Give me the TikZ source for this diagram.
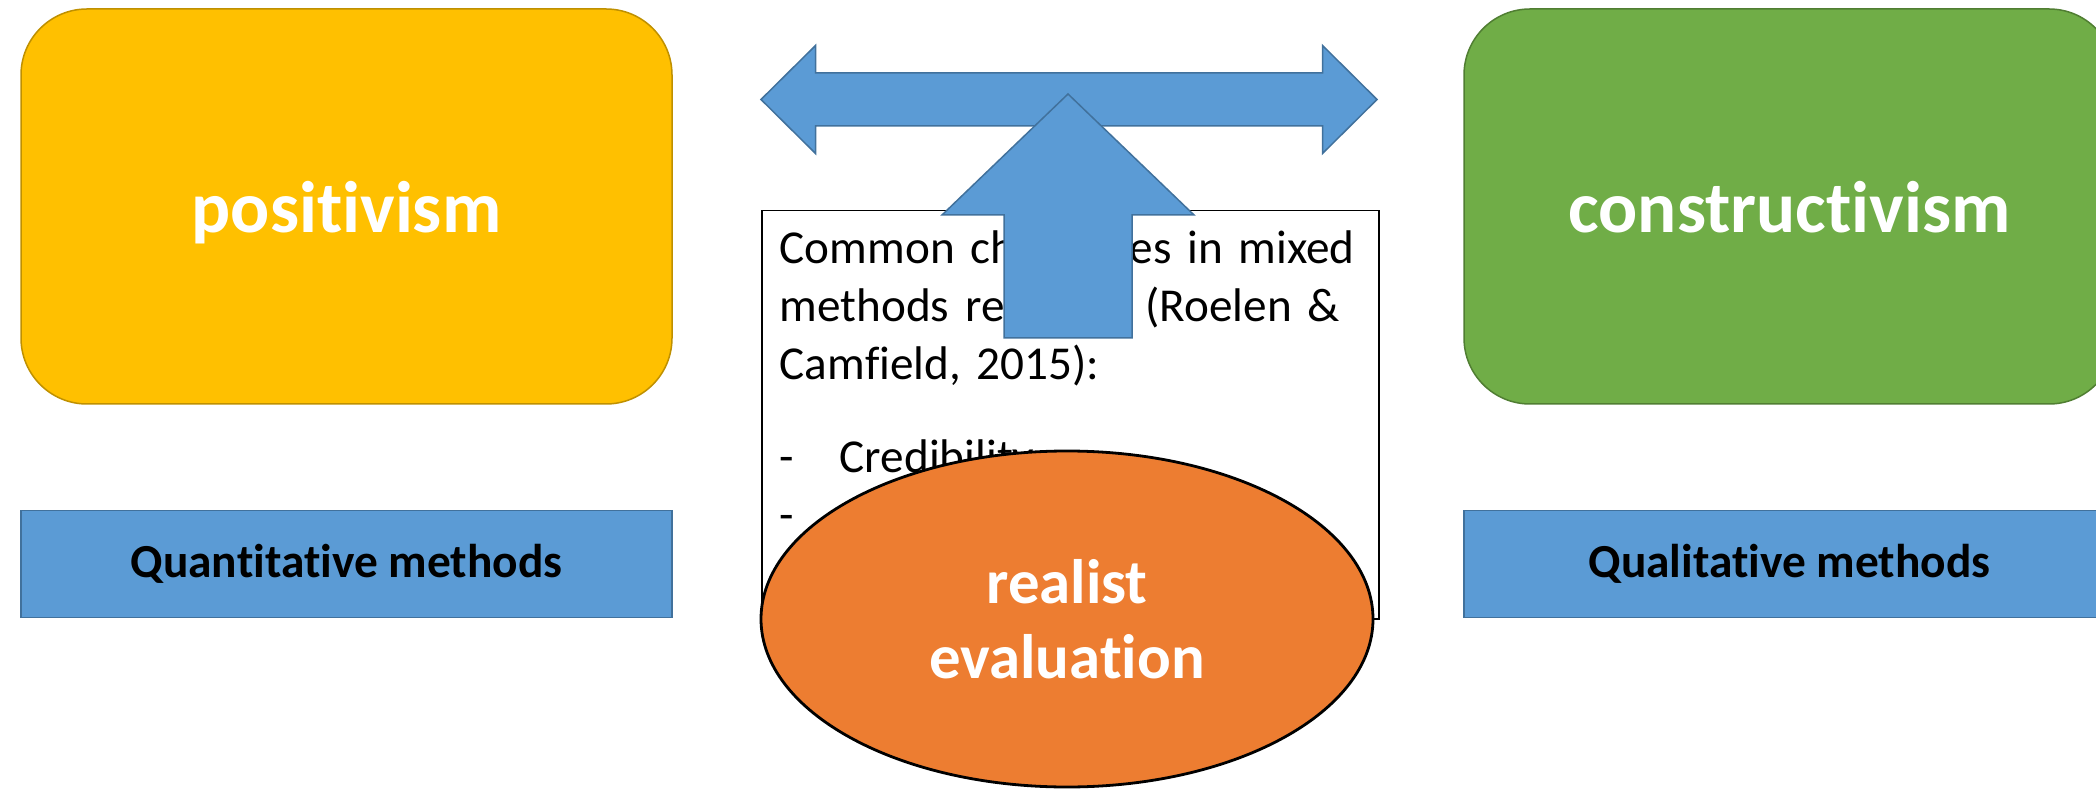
\documentclass[tikz,border=0pt]{standalone}
\usepackage{fontspec}
\setmainfont{Carlito}[Ligatures=NoCommon]
\frenchspacing
\usetikzlibrary{positioning,shapes.geometric}
\definecolor{gold}{HTML}{FFC000}
\definecolor{golddark}{HTML}{BF9000}
\definecolor{leaf}{HTML}{70AD47}
\definecolor{leafdark}{HTML}{507E32}
\definecolor{sky}{HTML}{5B9BD5}
\definecolor{skydark}{HTML}{41719C}
\definecolor{rust}{HTML}{ED7D31}
\tikzset{
  paradigm/.style={rounded corners=33pt, minimum width=325.5pt, minimum height=197.5pt,
    line width=0.75pt, text=white, text depth=0pt, font=\fontsize{36.5}{44}\selectfont\bfseries},
  methodbox/.style={fill=sky, draw=skydark, line width=0.75pt, minimum width=325.5pt,
    minimum height=53.5pt, font=\fontsize{23.7}{29}\selectfont\bfseries},
  textbox/.style={draw=black, fill=white, line width=0.75pt, inner xsep=9pt, inner ysep=0pt,
    text width=290.5pt, text height=26.5pt, text depth=177.5pt, align=left,
    font=\fontsize{23.6}{29}\selectfont},
  blockarrow/.style={fill=sky, draw=skydark, line width=0.75pt, line join=miter},
}

\begin{document}
\begin{tikzpicture}[x=0.5pt,y=-0.5pt]
  \useasboundingbox (0,0) rectangle (2096,790);
  \clip (0,0) rectangle (2096,790);
  % the two paradigms and their methods
  \node[paradigm, fill=gold, draw=golddark] (posit) at (346.5,206.5) {positivism};
  \node[paradigm, fill=leaf, draw=leafdark] (constr) at (1789.5,206.5) {constructivism};
  \node[methodbox, below=52.5pt of posit] (quant) {Quantitative methods};
  \node[methodbox, below=52.5pt of constr] (qual) {Qualitative methods};
  % text box in the middle
  \node[textbox, anchor=north west] (challenges) at (761,210) {%
    Common challenges in mixed\\
    methods research (Roelen \&\\
    Camfield, 2015):\\[17.5pt]
    \makebox[30pt][l]{-}Credibility\\
    \makebox[30pt][l]{-}};
  % double arrow
  \pgfmathsetmacro{\ax}{761};
  \pgfmathsetmacro{\bx}{1377};
  \pgfmathsetmacro{\ay}{99.5};
  \pgfmathsetmacro{\sh}{26.5};
  \pgfmathsetmacro{\hh}{54};
  \pgfmathsetmacro{\hl}{54.5};
  \draw[blockarrow] (\ax,\ay) -- (\ax+\hl,\ay-\hh) -- (\ax+\hl,\ay-\sh)
    -- (\bx-\hl,\ay-\sh) -- (\bx-\hl,\ay-\hh) -- (\bx,\ay) -- (\bx-\hl,\ay+\hh)
    -- (\bx-\hl,\ay+\sh) -- (\ax+\hl,\ay+\sh) -- (\ax+\hl,\ay+\hh) -- cycle;
  % up arrow
  \pgfmathsetmacro{\ux}{1068};
  \pgfmathsetmacro{\uy}{94};
  \coordinate (uptip) at (\ux,\uy);
  \draw[blockarrow] (uptip) -- (\ux+126,215) -- (\ux+64,215) -- (\ux+64,338)
    -- (\ux-64,338) -- (\ux-64,215) -- (\ux-126,215) -- cycle;
  % realist evaluation
  \node[ellipse, draw=black, line width=1.4pt, fill=rust, minimum width=306pt,
    minimum height=168pt, inner sep=0pt, text=white, align=center,
    font=\fontsize{31.4}{37.5}\selectfont\bfseries] (realist) at (1067,619) {realist\\evaluation};
\end{tikzpicture}
\end{document}
